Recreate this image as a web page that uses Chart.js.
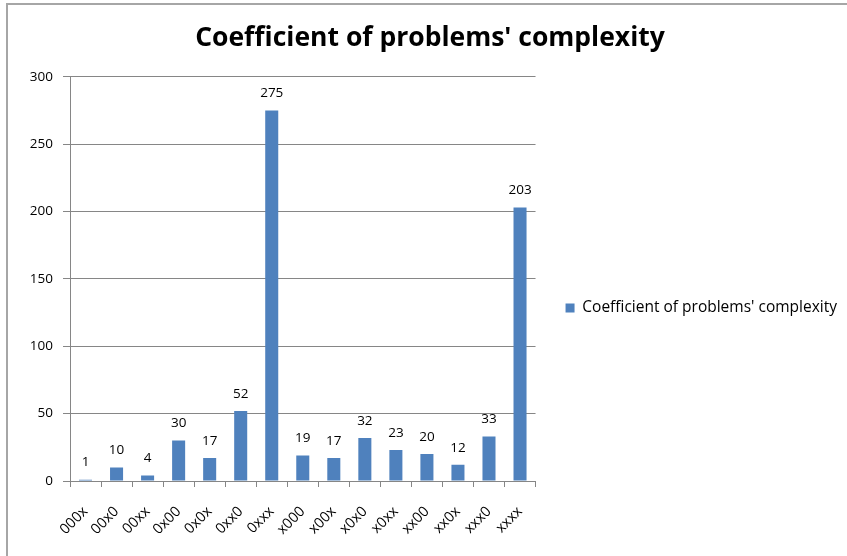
<!DOCTYPE html>
<html>
<head>
<meta charset="utf-8">
<script src="https://cdn.jsdelivr.net/npm/chart.js@4.4.0/dist/chart.umd.min.js"></script>
<style>
html,body{margin:0;padding:0;background:#fff;}
#wrap{position:relative;width:847px;height:556px;overflow:hidden;}
#frame{position:absolute;left:6px;top:3px;width:900px;height:600px;border-top:2px solid #a6a6a6;border-left:2px solid #a6a6a6;box-sizing:border-box;}
canvas{position:absolute;left:0;top:0;}
</style>
</head>
<body>
<div id="wrap">
<div id="frame"></div>
<canvas id="c" width="847" height="556"></canvas>
</div>
<script>
const titleText = "Coefficient of problems' complexity";
const seriesName = "Coefficient of problems' complexity";
const categories = ["000x","00x0","00xx","0x00","0x0x","0xx0","0xxx","x000","x00x","x0x0","x0xx","xx00","xx0x","xxx0","xxxx"];
const values = [1,10,4,30,17,52,275,19,17,32,23,20,12,33,203];
const yTicks = [0,50,100,150,200,250,300];

const TFONT = "'Open Sans','Liberation Sans',sans-serif";

const valueLabels = {
  id: 'valueLabels',
  afterDatasetsDraw(chart) {
    const ctx = chart.ctx;
    const meta = chart.getDatasetMeta(0);
    ctx.save();
    ctx.font = "13.5px " + TFONT;
    ctx.fillStyle = "#000";
    ctx.textAlign = "center";
    ctx.textBaseline = "middle";
    meta.data.forEach((bar, i) => {
      ctx.fillText(String(values[i]), bar.x, bar.y - 17);
    });
    ctx.restore();
  }
};

function build() {
  new Chart(document.getElementById('c'), {
    type: 'bar',
    data: {
      labels: categories,
      datasets: [{
        label: seriesName,
        data: values,
        backgroundColor: '#4F81BD',
        borderWidth: 0,
        barPercentage: 0.42,
        categoryPercentage: 1
      }]
    },
    options: {
      responsive: false,
      animation: false,
      devicePixelRatio: 1,
      layout: { padding: { left: 13, right: 0, top: 0, bottom: 0 } },
      plugins: {
        title: {
          display: true,
          text: titleText,
          color: '#000',
          font: { family: TFONT, size: 26.5, weight: 'bold' },
          padding: { top: 23, bottom: 22 }
        },
        legend: {
          position: 'right',
          maxWidth: 400,
          title: {
            display: true,
            text: ' ',
            font: { size: 10 },
            padding: { top: 48, bottom: 0 }
          },
          labels: {
            boxWidth: 9, boxHeight: 9,
            color: '#000',
            font: { family: TFONT, size: 15.5 },
            padding: 30
          }
        },
        tooltip: { enabled: false }
      },
      scales: {
        x: {
          grid: { display: true, offset: true, drawOnChartArea: false, drawTicks: true, tickLength: 6, color: '#868686' },
          border: { color: '#868686' },
          ticks: { color: '#000', font: { family: TFONT, size: 14.5 }, minRotation: 45, maxRotation: 45, padding: 16 },
          afterFit(s) { s.height = 75; }
        },
        y: {
          min: 0, max: 300,
          afterBuildTicks(s) { s.ticks = yTicks.map(v => ({ value: v })); },
          grid: { color: '#868686', tickLength: 7 },
          border: { color: '#868686' },
          ticks: { color: '#000', font: { family: TFONT, size: 13.5 }, padding: 10 },
          afterFit(s) { s.width = 57; }
        }
      }
    },
    plugins: [valueLabels]
  });
}

Promise.all([
  document.fonts.load("13px 'Open Sans'"),
  document.fonts.load("bold 26px 'Open Sans'")
]).then(build, build);
</script>
</body>
</html>
